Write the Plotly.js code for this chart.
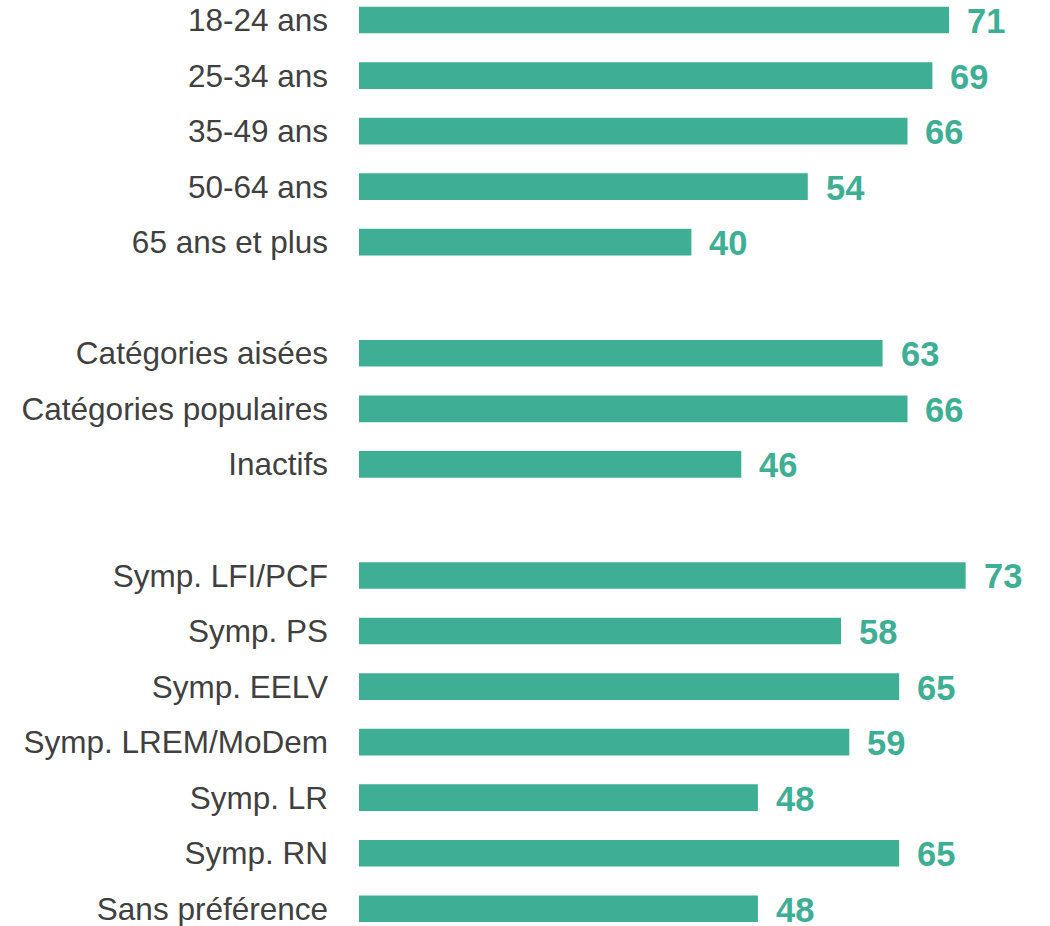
<!DOCTYPE html>
<html>
<head>
<meta charset="utf-8">
<script src="https://cdn.plot.ly/plotly-3.0.1.min.js"></script>
<style>html,body{margin:0;padding:0;background:#fff;}#chart{width:1050px;height:926px;}</style>
</head>
<body>
<div id="chart"></div>
<script>
// Groups of categories and values
const ageLabels = ['18-24 ans', '25-34 ans', '35-49 ans', '50-64 ans', '65 ans et plus'];
const ageValues = [71, 69, 66, 54, 40];
const csLabels = ['Catégories aisées', 'Catégories populaires', 'Inactifs'];
const csValues = [63, 66, 46];
const prefLabels = ['Symp. LFI/PCF', 'Symp. PS', 'Symp. EELV', 'Symp. LREM/MoDem', 'Symp. LR', 'Symp. RN', 'Sans préférence'];
const prefValues = [73, 58, 65, 59, 48, 65, 48];

const groups = [
  {labels: ageLabels, values: ageValues},
  {labels: csLabels, values: csValues},
  {labels: prefLabels, values: prefValues}
];

const barColor = '#3EAE94';
const textColor = '#404040';
const fontFam = '"Liberation Sans", Arial, sans-serif';

// Build slot positions with one empty slot between groups
const ys = [], xs = [], names = [];
let slot = 0;
groups.forEach((g) => {
  g.labels.forEach((lab, i) => {
    ys.push(slot); xs.push(g.values[i]); names.push(lab);
    slot++;
  });
  slot++;
});

const trace = {
  type: 'bar',
  orientation: 'h',
  x: xs,
  y: ys,
  width: 0.48,
  marker: {color: barColor},
  hoverinfo: 'none'
};

const annotations = xs.map((v, i) => ({
  x: v, y: ys[i], xref: 'x', yref: 'y',
  text: '<b>' + v + '</b>',
  showarrow: false,
  xanchor: 'left', yanchor: 'middle',
  xshift: 16, yshift: -1,
  font: {family: fontFam, size: 34.5, color: barColor}
}));

const layout = {
  width: 1050, height: 926,
  margin: {l: 359, r: 0, t: 0, b: 0},
  paper_bgcolor: '#ffffff', plot_bgcolor: '#ffffff',
  showlegend: false,
  xaxis: {range: [0, 83.15], visible: false, fixedrange: true},
  yaxis: {
    range: [16.31, -0.36],
    tickmode: 'array', tickvals: ys, ticktext: names,
    showgrid: false, zeroline: false, showline: false, ticks: '',
    ticklabelstandoff: 30,
    ticklabeloverflow: 'allow',
    tickfont: {family: fontFam, size: 31.5, color: textColor},
    fixedrange: true
  },
  annotations: annotations,
  font: {family: fontFam}
};

Plotly.newPlot('chart', [trace], layout, {displayModeBar: false, staticPlot: true});
</script>
</body>
</html>
